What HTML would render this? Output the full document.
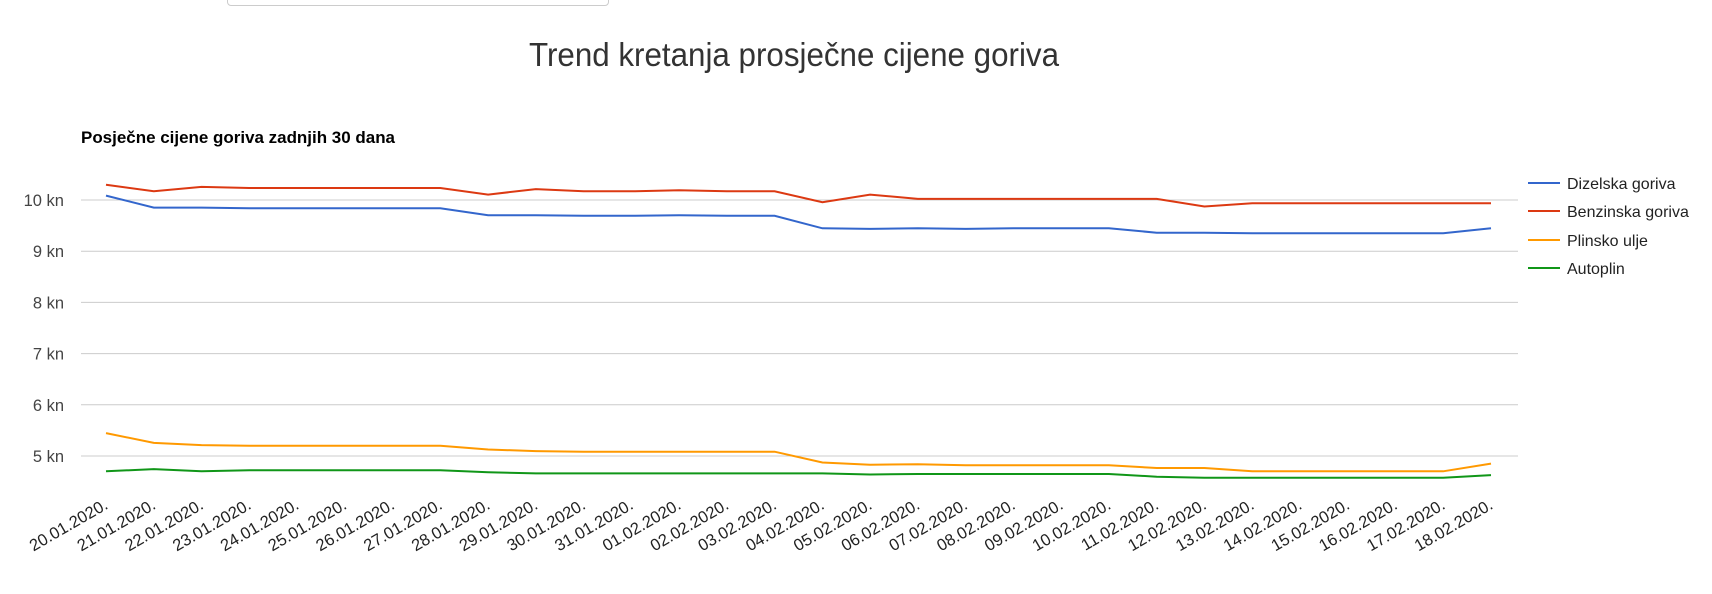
<!DOCTYPE html>
<html><head><meta charset="utf-8"><style>
body{margin:0;background:#fff;width:1712px;height:594px;overflow:hidden;font-family:"Liberation Sans",sans-serif}
</style></head><body>
<div style="position:absolute;left:227px;top:-6px;width:380px;height:10px;border:1px solid #ccc;border-radius:4px"></div>
<svg id="s" width="1712" height="594" style="position:absolute;left:0;top:0" font-family="Liberation Sans, sans-serif">
<text x="529" y="66" font-size="33" fill="#333" textLength="530" lengthAdjust="spacingAndGlyphs">Trend kretanja prosječne cijene goriva</text>
<text x="81" y="143" font-size="16.5" font-weight="bold" fill="#000" textLength="314" lengthAdjust="spacingAndGlyphs">Posječne cijene goriva zadnjih 30 dana</text>
</svg>
<script>
var s=document.getElementById('s'),NS='http://www.w3.org/2000/svg';
function el(n,a,t){var e=document.createElementNS(NS,n);for(var k in a)e.setAttribute(k,a[k]);if(t)e.textContent=t;s.appendChild(e);return e;}
for(var v=5;v<=10;v++){var y=456-(v-5)*51.2;el('line',{x1:81,x2:1518,y1:y,y2:y,stroke:'#ccc','stroke-width':1});el('text',{x:64,y:y+6,'text-anchor':'end','font-size':16.5,fill:'#444'},v+' kn');}
var D={
'#3366cc':[179,190,190,190.5,190.5,190.5,190.5,190.5,197,197,197.5,197.5,197,197.5,197.5,209,209.5,209,209.5,209,209,209,213,213,213.5,213.5,213.5,213.5,213.5,209],
'#dc3912':[169,175,171,172,172,172,172,172,178,173,175,175,174,175,175,185,178,182,182,182,182,182,182,189,186,186,186,186,186,186],
'#ff9900':[397,406,408,408.5,408.5,408.5,408.5,408.5,412,413.5,414,414,414,414,414,424,426,425.5,426.5,426.5,426.5,426.5,429,429,432,432,432,432,432,425],
'#109618':[432,430,432,431,431,431,431,431,433,434,434,434,434,434,434,434,435,434.5,434.5,434.5,434.5,434.5,437,438,438,438,438,438,438,435.5]};
var step=(1491-106)/29;
for(var c in D){var p=D[c].map(function(yd,i){return (106+i*step).toFixed(1)+','+(200+(yd-183)*1.0894).toFixed(1)}).join(' ');
el('polyline',{points:p,fill:'none',stroke:c,'stroke-width':2});}
var names=['Dizelska goriva','Benzinska goriva','Plinsko ulje','Autoplin'],cols=Object.keys(D),ly=[183,211,240,268];
for(var i=0;i<4;i++){el('line',{x1:1528,x2:1560,y1:ly[i],y2:ly[i],stroke:cols[i],'stroke-width':2});el('text',{x:1567,y:ly[i]+6,'font-size':16,fill:'#222'},names[i]);}
var d=new Date(2020,0,20);
for(var i=0;i<30;i++){var dd=new Date(d.getTime()+i*864e5);var t=('0'+dd.getDate()).slice(-2)+'.'+('0'+(dd.getMonth()+1)).slice(-2)+'.2020.';
var x=109+i*step,y=508;el('text',{x:x,y:y,'text-anchor':'end','font-size':16.5,fill:'#222',transform:'rotate(-30 '+x+' '+y+')'},t);}
</script>
</body></html>
